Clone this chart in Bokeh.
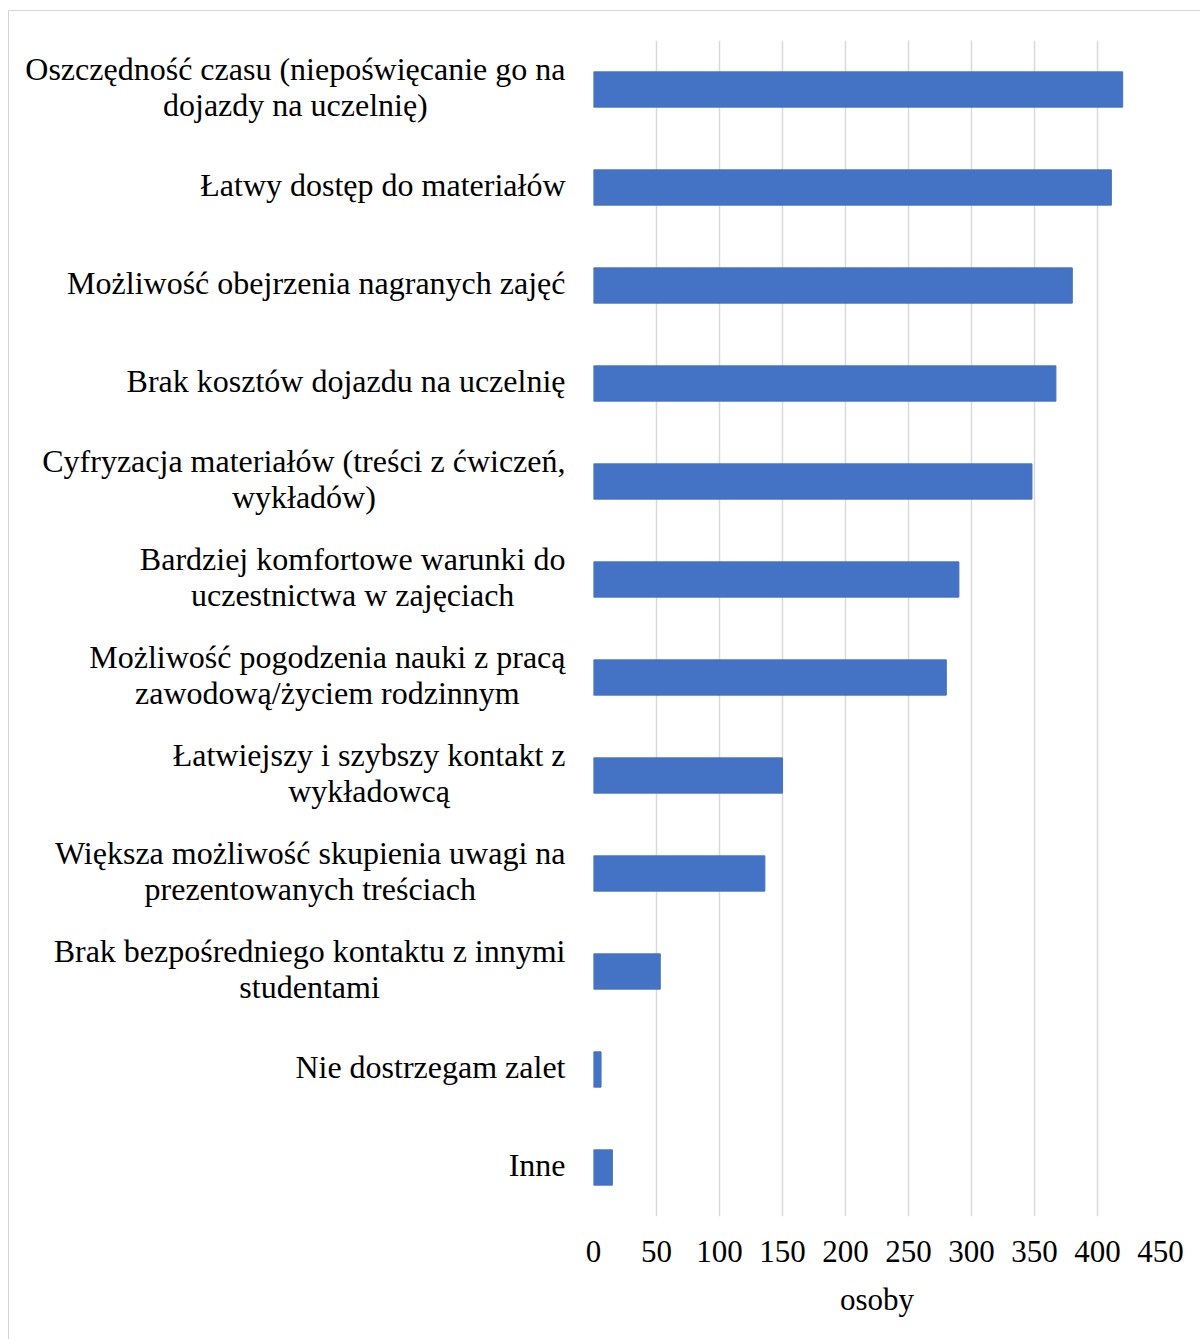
from bokeh.plotting import figure
from bokeh.models import FactorRange, Range1d, FixedTicker, Label
from bokeh.layouts import row
from bokeh.embed import file_html
from bokeh.resources import INLINE

categories = [
    "Oszczędność czasu (niepoświęcanie go na\ndojazdy na uczelnię)",
    "Łatwy dostęp do materiałów",
    "Możliwość obejrzenia nagranych zajęć",
    "Brak kosztów dojazdu na uczelnię",
    "Cyfryzacja materiałów (treści z ćwiczeń,\nwykładów)",
    "Bardziej komfortowe warunki do\nuczestnictwa w zajęciach",
    "Możliwość pogodzenia nauki z pracą\nzawodową/życiem rodzinnym",
    "Łatwiejszy i szybszy kontakt z\nwykładowcą",
    "Większa możliwość skupienia uwagi na\nprezentowanych treściach",
    "Brak bezpośredniego kontaktu z innymi\nstudentami",
    "Nie dostrzegam zalet",
    "Inne",
]
values = [420, 411, 380, 367, 348, 290, 280, 150, 136, 53, 6, 15]
x_ticks = [0, 50, 100, 150, 200, 250, 300, 350, 400, 450]
x_title = "osoby"

FONT = "Liberation Serif"
BAR = "#4472C4"
GRID = "#d9d9d9"
H = 1328
TOP, BOTTOM = 29, 123
LEFT_W = 564      # width of the label panel
LABEL_GAP = 8     # gap between label block and right edge of label panel
MAIN_PAD = 20     # main figure's left border before the plot frame
MAIN_W = 1191 - LEFT_W

factors = list(reversed(categories))
yr = FactorRange(factors=factors)

# ---- left panel with centred multi-line category labels ----
lp = figure(
    width=LEFT_W, height=H, y_range=yr, x_range=Range1d(0, LEFT_W),
    output_backend="svg", toolbar_location=None,
    x_axis_location=None, y_axis_location=None,
    min_border_left=0, min_border_right=0,
    min_border_top=TOP, min_border_bottom=BOTTOM,
)
lp.outline_line_color = None
lp.grid.visible = False
lp.background_fill_color = "white"
lp.border_fill_color = "white"
for cat in categories:
    y_syn = factors.index(cat) + 0.5  # synthetic coordinate of the factor
    lp.add_layout(Label(
        x=LEFT_W - LABEL_GAP, y=y_syn, x_units="data", y_units="data", y_offset=3,
        text=cat, anchor="center_right", text_align="center",
        text_baseline="middle", text_font=FONT, text_font_size="32px",
        text_color="black", text_line_height=1.0,
    ))

# ---- main bar chart ----
p = figure(
    width=MAIN_W, height=H, y_range=yr, x_range=Range1d(0, 450),
    output_backend="svg", toolbar_location=None,
    min_border_left=MAIN_PAD, min_border_right=40,
    min_border_top=TOP, min_border_bottom=BOTTOM,
)
p.hbar(y=categories, right=values, left=0, height=0.36,
       fill_color=BAR, line_color=BAR, line_width=1)

p.outline_line_color = None
p.background_fill_color = "white"
p.border_fill_color = "white"
p.ygrid.visible = False
p.yaxis.visible = False
p.xgrid.grid_line_color = GRID
p.xgrid.grid_line_width = 1.5

p.xaxis.ticker = FixedTicker(ticks=x_ticks)
p.xaxis.axis_line_color = None
p.xaxis.major_tick_line_color = None
p.xaxis.minor_tick_line_color = None
p.xaxis.major_label_standoff = 18
p.xaxis.major_label_text_font = FONT
p.xaxis.major_label_text_font_size = "31px"
p.xaxis.major_label_text_color = "black"
p.xaxis.axis_label = x_title
p.xaxis.axis_label_text_font = FONT
p.xaxis.axis_label_text_font_size = "31px"
p.xaxis.axis_label_text_font_style = "normal"
p.xaxis.axis_label_text_color = "black"
p.xaxis.axis_label_standoff = 17

layout = row(lp, p)
layout.margin = (11, 0, 0, 9)
layout.styles = {"outline": "1px solid #d6d6d6", "background": "white"}

open("out.html", "w").write(file_html(layout, INLINE))
